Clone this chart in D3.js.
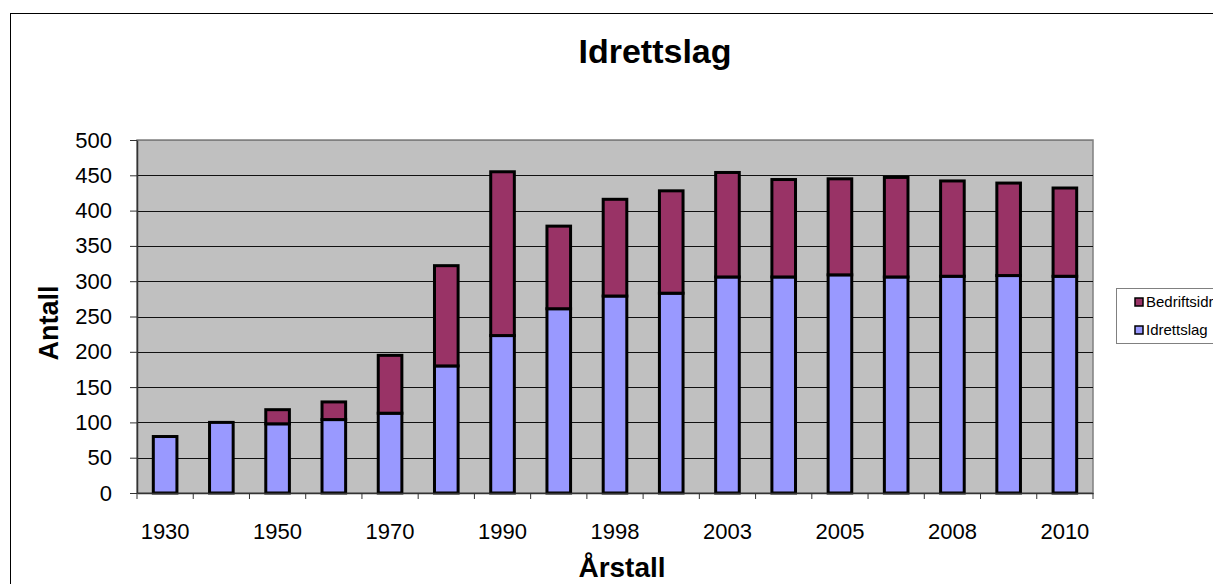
<!DOCTYPE html>
<html>
<head>
<meta charset="utf-8">
<script src="https://cdn.jsdelivr.net/npm/d3@7"></script>
<style>
  body { margin: 0; background: #fff; }
  svg { display: block; font-family: "Liberation Sans", Arial, sans-serif; }
</style>
</head>
<body>
<div id="chart"></div>
<script>
// data
let years = ['1930', '1940', '1950', '1960', '1970', '1980', '1990', '1995', '1998',
             '2000', '2003', '2004', '2005', '2006', '2008', '2009', '2010']
let idrettslag = [80, 100, 98, 104, 113, 180, 223, 261, 279, 283, 306, 306, 309, 306, 307, 308, 307]
let bedriftsidrett = [0, 0, 20, 25, 82, 142, 232, 117, 137, 145, 148, 138, 136, 141, 135, 131, 125]
let seriesNames = ['Idrettslag', 'Bedriftsidrettslag']
let yTicks = [0, 50, 100, 150, 200, 250, 300, 350, 400, 450, 500]

let width = 1213,
    height = 584,
    margin = { top: 140, right: 120, bottom: 91, left: 137 }

let colors = { 'Idrettslag': '#9999ff', 'Bedriftsidrettslag': '#993366' }

let rows = years.map((y, i) => ({ year: y, 'Idrettslag': idrettslag[i], 'Bedriftsidrettslag': bedriftsidrett[i] }))
let stack = d3.stack().keys(seriesNames)(rows)

let svg = d3.select('#chart').append('svg')
    .attr('width', width)
    .attr('height', height)

// outer chart frame
svg.append('rect')
    .attr('x', 10.5).attr('y', 13.5)
    .attr('width', width + 20).attr('height', height + 20)
    .attr('fill', 'none').attr('stroke', '#000').attr('stroke-width', 1)

let x = d3.scaleBand()
    .domain(years)
    .range([margin.left, 1093])
    .paddingInner(0.58).paddingOuter(0.29)

let xTick = d3.scaleBand().domain(years).range([margin.left, 1093])

let y = d3.scaleLinear()
    .domain([0, 500])
    .range([493, margin.top])

// plot area
svg.append('rect')
    .attr('x', margin.left).attr('y', y(500))
    .attr('width', 1093 - margin.left).attr('height', y(0) - y(500))
    .attr('fill', '#c0c0c0')
    .attr('stroke', '#808080').attr('stroke-width', 1.5)

// gridlines
svg.append('g')
    .selectAll('line')
    .data(yTicks.filter(t => t > 0))
    .enter().append('line')
    .attr('x1', margin.left).attr('x2', 1093)
    .attr('y1', d => Math.round(y(d)) + 0.5).attr('y2', d => Math.round(y(d)) + 0.5)
    .attr('stroke', d => d === 500 ? '#808080' : '#111')
    .attr('stroke-width', 1)

// bars
svg.append('g')
    .selectAll('g')
    .data(stack)
    .enter().append('g')
    .attr('fill', d => colors[d.key])
    .selectAll('rect')
    .data(d => d.filter(p => p[1] - p[0] > 0))
    .enter().append('rect')
    .attr('x', d => x(d.data.year))
    .attr('width', x.bandwidth())
    .attr('y', d => y(d[1]))
    .attr('height', d => y(d[0]) - y(d[1]))
    .attr('stroke', '#000')
    .attr('stroke-width', 3)

// y axis
let yAxis = g => g
    .attr('transform', `translate(${margin.left},0)`)
    .call(d3.axisLeft(y).tickValues(yTicks).tickSize(7).tickSizeOuter(0).tickPadding(18))
    .call(g => g.select('.domain').attr('stroke', '#333').attr('stroke-width', 1.5))
    .call(g => g.selectAll('.tick line').attr('stroke', '#333'))
    .call(g => g.selectAll('.tick text').attr('font-size', 22).attr('fill', '#000')
        .attr('font-family', '"Liberation Sans", Arial, sans-serif'))

svg.append('g').call(yAxis)

// x axis
let xAxis = g => g
    .attr('transform', `translate(0,${y(0)})`)
    .call(d3.axisBottom(xTick).tickSize(0).tickFormat((d, i) => i % 2 === 0 ? d : ''))
    .call(g => g.select('.domain').attr('stroke', '#333').attr('stroke-width', 1.5))
    .call(g => g.selectAll('.tick text').attr('font-size', 22).attr('fill', '#000').attr('dy', 0)
        .attr('y', 46)
        .attr('font-family', '"Liberation Sans", Arial, sans-serif'))

svg.append('g').call(xAxis)

// tick marks between categories
svg.append('g')
    .selectAll('line')
    .data(years.concat(['end']))
    .enter().append('line')
    .attr('x1', (d, i) => margin.left + i * xTick.step())
    .attr('x2', (d, i) => margin.left + i * xTick.step())
    .attr('y1', y(0)).attr('y2', y(0) + 6)
    .attr('stroke', '#333')

// titles
svg.append('text')
    .attr('x', 655).attr('y', 63)
    .attr('text-anchor', 'middle')
    .attr('font-size', 34).attr('font-weight', 'bold')
    .text('Idrettslag')

svg.append('text')
    .attr('x', 622).attr('y', 577)
    .attr('text-anchor', 'middle')
    .attr('font-size', 28).attr('font-weight', 'bold')
    .text('Årstall')

svg.append('text')
    .attr('transform', 'translate(58,323) rotate(-90)')
    .attr('text-anchor', 'middle')
    .attr('font-size', 27).attr('font-weight', 'bold')
    .text('Antall')

// legend
let legend = svg.append('g').attr('transform', 'translate(1116,288)')

legend.append('rect')
    .attr('x', 0.5).attr('y', 0.5)
    .attr('width', 150).attr('height', 55)
    .attr('fill', '#fff').attr('stroke', '#808080')

let legendItems = legend.selectAll('.item')
    .data(seriesNames.slice().reverse())
    .enter().append('g')
    .attr('class', 'item')
    .attr('transform', (d, i) => `translate(19,${10 + i * 28})`)

legendItems.append('rect')
    .attr('width', 8).attr('height', 8)
    .attr('fill', d => colors[d])
    .attr('stroke', '#000').attr('stroke-width', 1.5)

legendItems.append('text')
    .attr('x', 11).attr('y', 9)
    .attr('font-size', 15)
    .text(d => d)
</script>
</body>
</html>
